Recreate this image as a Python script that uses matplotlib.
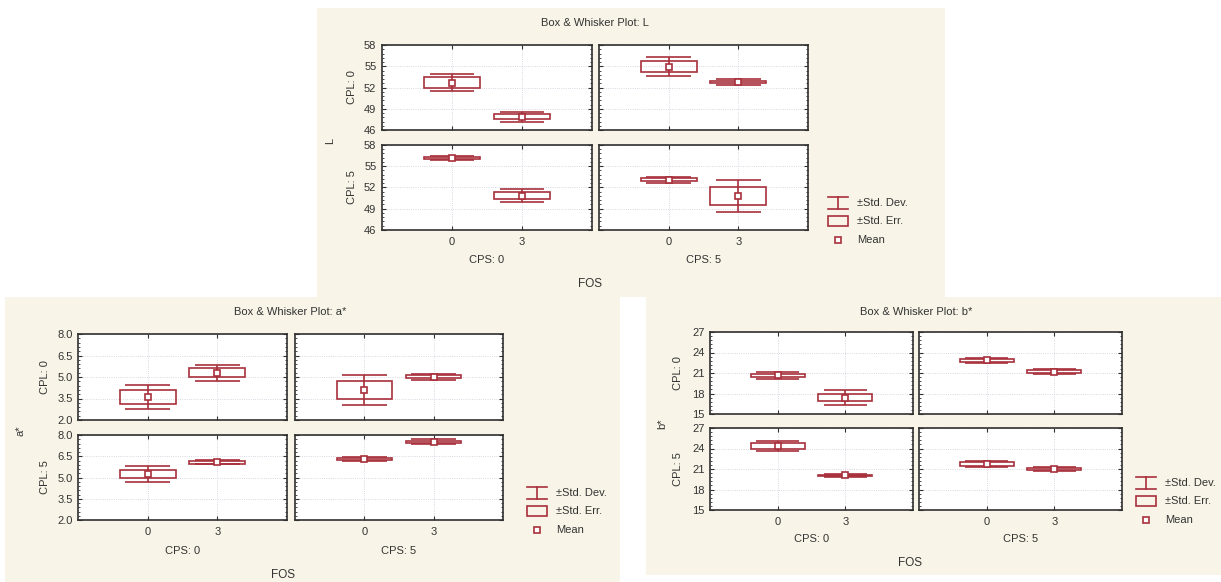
import matplotlib
matplotlib.use("Agg")
import matplotlib.pyplot as plt
from matplotlib.patches import Rectangle
from matplotlib.ticker import AutoMinorLocator

# levels
fos_levels = ["0", "3"]
cpl_levels = ["CPL: 0", "CPL: 5"]
cps_levels = ["CPS: 0", "CPS: 5"]
legend_labels = ["\u00b1Std. Dev.", "\u00b1Std. Err.", "Mean"]

# values, order: (CPL0,CPS0), (CPL0,CPS5), (CPL5,CPS0), (CPL5,CPS5); each FOS 0, FOS 3
L_mean = [52.7, 47.9, 54.95, 52.8, 56.15, 50.85, 53.1, 50.8]
L_se = [0.75, 0.38, 0.75, 0.15, 0.15, 0.5, 0.2, 1.3]
L_sd = [1.15, 0.7, 1.35, 0.4, 0.25, 0.95, 0.4, 2.2]
L_ticks = [46, 49, 52, 55, 58]

a_mean = [3.62, 5.3, 4.07, 5.02, 5.25, 6.08, 6.28, 7.53]
a_se = [0.48, 0.3, 0.62, 0.12, 0.28, 0.1, 0.07, 0.08]
a_sd = [0.85, 0.55, 1.05, 0.22, 0.55, 0.16, 0.15, 0.16]
a_ticks = [2.0, 3.5, 5.0, 6.5, 8.0]

b_mean = [20.65, 17.4, 22.85, 21.2, 24.4, 20.05, 21.7, 21.0]
b_se = [0.25, 0.5, 0.2, 0.2, 0.4, 0.12, 0.3, 0.18]
b_sd = [0.5, 1.05, 0.35, 0.4, 0.7, 0.2, 0.4, 0.3]
b_ticks = [15, 18, 21, 24, 27]

W, H = 1221, 582
RED = "#a8303c"
TXT = "#333333"
BG = "#f8f4e7"
FS = 8

plt.rcParams["font.family"] = ["Liberation Sans", "DejaVu Sans"]

fig = plt.figure(figsize=(W / 100, H / 100), dpi=100)
fig.patch.set_facecolor("white")


def px_rect(x0, y0, x1, y1):
    return [x0 / W, 1 - y1 / H, (x1 - x0) / W, (y1 - y0) / H]


def ftext(x, y, s, **kw):
    kw.setdefault("fontsize", FS)
    kw.setdefault("color", TXT)
    kw.setdefault("ha", "center")
    kw.setdefault("va", "center")
    fig.text(x / W, 1 - y / H, s, **kw)


def background(x0, y0, x1, y1):
    fig.patches.append(Rectangle((x0 / W, 1 - y1 / H), (x1 - x0) / W, (y1 - y0) / H,
                                 transform=fig.transFigure, facecolor=BG,
                                 edgecolor="none", zorder=-10))


def draw_cell(ax, means, ses, sds, ticks):
    for i in range(len(means)):
        m, se, sd = means[i], ses[i], sds[i]
        ax.vlines(i, m - sd, m + sd, color=RED, lw=1.2, zorder=3)
        ax.hlines([m - sd, m + sd], i - 0.32, i + 0.32, color=RED, lw=1.2, zorder=3)
        ax.add_patch(Rectangle((i - 0.4, m - se), 0.8, 2 * se, fill=False,
                               edgecolor=RED, lw=1.2, zorder=3))
        ax.plot(i, m, "s", mfc="white", mec=RED, mew=1.2, ms=4.5, zorder=4)
    ax.set_xlim(-1, 2)
    ax.set_ylim(ticks[0], ticks[-1])
    ax.set_yticks(ticks)
    ax.set_xticks(range(len(fos_levels)))
    ax.yaxis.set_minor_locator(AutoMinorLocator(5))
    ax.grid(True, color="#c9cdd8", lw=0.6, ls=":")
    ax.tick_params(direction="in", top=True, right=True, length=3, width=0.8,
                   labelsize=FS, colors="#303030", labelcolor=TXT, pad=4)
    ax.tick_params(which="minor", direction="in", left=True, right=True,
                   length=1.5, width=0.6, colors="#303030")
    for s in ax.spines.values():
        s.set_color("#303030")
        s.set_linewidth(1.2)


def draw_legend(sx, tx, rows):
    # I-beam
    y = rows[0]
    fig.add_artist(plt.Line2D([(sx - 10) / W, (sx + 10) / W], [1 - (y - 6) / H] * 2, color=RED, lw=1.2))
    fig.add_artist(plt.Line2D([(sx - 10) / W, (sx + 10) / W], [1 - (y + 6) / H] * 2, color=RED, lw=1.2))
    fig.add_artist(plt.Line2D([sx / W] * 2, [1 - (y - 6) / H, 1 - (y + 6) / H], color=RED, lw=1.2))
    y = rows[1]
    fig.patches.append(Rectangle(((sx - 10) / W, 1 - (y + 5) / H), 20 / W, 10 / H,
                                 transform=fig.transFigure, fill=False, edgecolor=RED, lw=1.2))
    y = rows[2]
    fig.add_artist(plt.Line2D([sx / W], [1 - y / H], marker="s", mfc="white", mec=RED,
                              mew=1.2, ms=4.5, ls="none"))
    for r, lab in zip(rows, legend_labels):
        ftext(tx, r, lab, ha="left")


def draw_panel(bg, title, title_y, ylab, ylab_x, cpl_x, cols, rows, means, ses, sds, ticks,
               xtick_y, cps_y, fos_xy, leg):
    background(*bg)
    ftext((cols[0][0] + cols[1][1]) / 2, title_y, title)
    for r in range(2):
        for c in range(2):
            ax = fig.add_axes(px_rect(cols[c][0], rows[r][0], cols[c][1], rows[r][1]))
            k = (r * 2 + c) * 2
            draw_cell(ax, means[k:k + 2], ses[k:k + 2], sds[k:k + 2], ticks)
            if c == 0:
                ax.set_yticklabels([f"{t:g}" if isinstance(t, int) else f"{t:.1f}" for t in ticks])
            else:
                ax.set_yticklabels([])
            ax.set_xticklabels([])
            if r == 1:
                for i, lab in enumerate(fos_levels):
                    xc = cols[c][0] + (cols[c][1] - cols[c][0]) * (i + 1) / 3
                    ftext(xc, xtick_y, lab)
                ftext((cols[c][0] + cols[c][1]) / 2, cps_y, cps_levels[c])
        ftext(cpl_x, (rows[r][0] + rows[r][1]) / 2, cpl_levels[r], rotation=90)
    ftext(ylab_x, (rows[0][1] + rows[1][0]) / 2 + 3, ylab, rotation=90)
    ftext(fos_xy[0], fos_xy[1], "FOS", fontsize=FS + 0.5)
    draw_legend(*leg)


# L panel
draw_panel((317, 8, 945, 297), "Box & Whisker Plot: L", 23, "L", 330, 352,
           [(382, 592), (599, 808)], [(45, 130), (145, 230)],
           L_mean, L_se, L_sd, L_ticks, 242, 260, (590, 284),
           (838, 857, [203, 221, 240]))

# a* panel
draw_panel((5, 297, 620, 582), "Box & Whisker Plot: a*", 312, "a*", 21, 45,
           [(78, 287), (295, 503)], [(334, 420), (435, 520)],
           a_mean, a_se, a_sd, a_ticks, 532, 551, (283, 575),
           (537, 556, [493, 511, 530]))

# b* panel
draw_panel((646, 297, 1221, 575), "Box & Whisker Plot: b*", 312, "b*", 662, 678,
           [(710, 913), (919, 1122)], [(332, 414), (428, 510)],
           b_mean, b_se, b_sd, b_ticks, 522, 539, (910, 563),
           (1146, 1165, [483, 501, 520]))

fig.savefig("out.png", dpi=100, facecolor=fig.get_facecolor())
